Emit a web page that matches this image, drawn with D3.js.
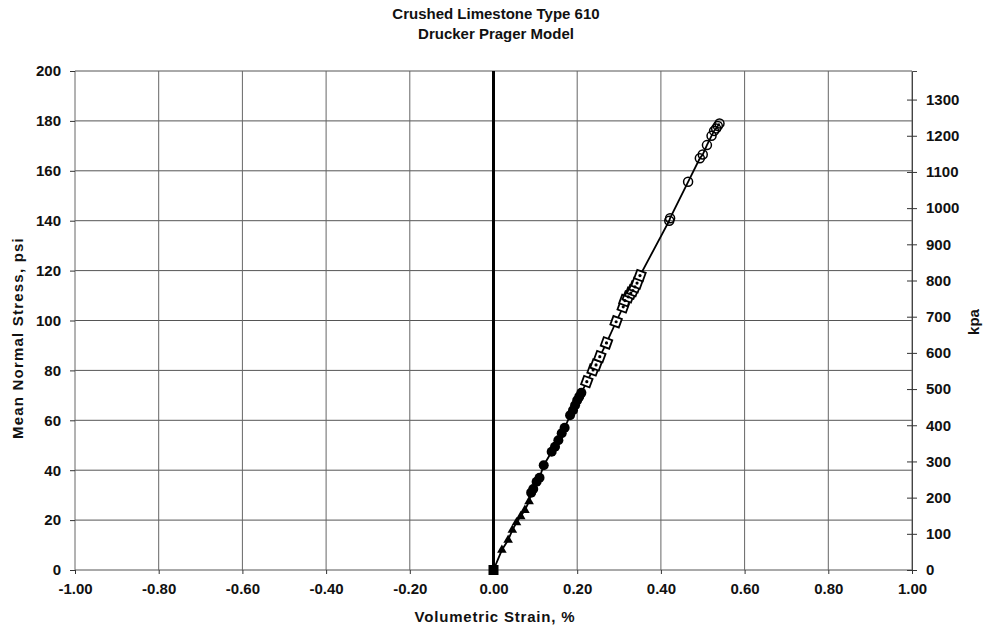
<!DOCTYPE html>
<html><head><meta charset="utf-8">
<script src="https://cdn.jsdelivr.net/npm/d3@7"></script>
<style>
body{margin:0;background:#fff;}
text{font-family:"Liberation Sans",Arial,sans-serif;font-weight:bold;fill:#111;}
</style></head>
<body><svg id="c" width="992" height="630"></svg>
<script>
const titleLines = ["Crushed Limestone Type 610", "Drucker Prager Model"];
const xTicks = [-1.0,-0.8,-0.6,-0.4,-0.2,0,0.2,0.4,0.6,0.8,1.0];
const yTicks = [0,20,40,60,80,100,120,140,160,180,200];
const kpaTicks = [0,100,200,300,400,500,600,700,800,900,1000,1100,1200,1300];

// vertical series at zero strain
const s0Strain = [0, 0];
const s0Stress = [0, 200];
// filled triangles
const s1Strain = [0.00,0.02,0.035,0.045,0.055,0.065,0.075,0.085];
const s1Stress = [0,8,12,16,19,21.5,24,27.5];
// filled circles
const s2Strain = [0.09,0.095,0.103,0.11,0.12,0.139,0.147,0.155,0.163,0.17,0.183,0.19,0.195,0.20,0.205,0.21];
const s2Stress = [31,32.5,35.4,37,42,47.4,49.4,52,54.8,57,62,64,66,68,69.5,71];
// open squares
const s3Strain = [0.223,0.238,0.245,0.254,0.27,0.293,0.31,0.314,0.322,0.328,0.333,0.338,0.343,0.35];
const s3Stress = [75.5,80.2,82.2,85.5,91,99.5,105.5,108,109.5,111,112,113.5,115,118];
// open circles
const s4Strain = [0.42,0.422,0.465,0.493,0.50,0.51,0.521,0.527,0.532,0.536,0.54];
const s4Stress = [140,141,155.6,165,166.5,170.3,174,176,177,178,179];

const svg = d3.select("#c");
const L=75, R=912, T=71, B=570;
const x = d3.scaleLinear().domain([-1,1]).range([L,R]);
const y = d3.scaleLinear().domain([0,200]).range([B,T]);
const yk = d3.scaleLinear().domain([0,200*6.894757]).range([B,T]);
const FS = "15px";

// grid
const g = svg.append("g");
g.selectAll(".hg").data(yTicks).join("line")
  .attr("x1",L).attr("x2",R).attr("y1",d=>y(d)).attr("y2",d=>y(d))
  .attr("stroke","#555").attr("stroke-width",1);
g.selectAll(".vg").data(xTicks).join("line")
  .attr("x1",d=>x(d)).attr("x2",d=>x(d)).attr("y1",T).attr("y2",B)
  .attr("stroke","#666").attr("stroke-width",1);

// axes
const fmtX = d => d3.format(".2f")(d).replace("\u2212","-");
const xAxis = svg.append("g").attr("transform",`translate(0,${B})`)
  .call(d3.axisBottom(x).tickValues(xTicks).tickFormat(fmtX).tickSize(4).tickPadding(9));
const yAxis = svg.append("g").attr("transform",`translate(${L},0)`)
  .call(d3.axisLeft(y).tickValues(yTicks).tickFormat(d=>String(d)).tickSize(5).tickPadding(9));
const kAxis = svg.append("g").attr("transform",`translate(${R},0)`)
  .call(d3.axisRight(yk).tickValues(kpaTicks).tickFormat(d=>String(d)).tickSize(5).tickPadding(9));
kAxis.selectAll(".tick line").attr("x1",-5);
[xAxis,yAxis,kAxis].forEach(a=>{
  a.selectAll("text").style("font-size",FS).style("font-family","'Liberation Sans',Arial,sans-serif").style("font-weight","bold").attr("fill","#111");
  a.selectAll("line").attr("stroke","#333");
  a.select(".domain").attr("stroke","#444");
});
xAxis.select(".domain").remove();
yAxis.select(".domain").remove();

// data
const pts = (xs,ys)=>xs.map((v,i)=>[v,ys[i]]);
const all = [].concat(pts(s1Strain,s1Stress),pts(s2Strain,s2Stress),pts(s3Strain,s3Stress),pts(s4Strain,s4Stress));
const line = d3.line().x(d=>x(d[0])).y(d=>y(d[1]));
svg.append("path").datum(pts(s0Strain,s0Stress)).attr("d",line).attr("fill","none").attr("stroke","#000").attr("stroke-width",3);
svg.append("path").datum(all).attr("d",line).attr("fill","none").attr("stroke","#000").attr("stroke-width",1.8);

svg.append("rect").attr("x",x(0)-5).attr("y",y(0)-5).attr("width",10).attr("height",10).attr("fill","#000");

svg.append("g").selectAll("path").data(pts(s1Strain,s1Stress).slice(1)).join("path")
  .attr("d",d3.symbol(d3.symbolTriangle,40))
  .attr("transform",d=>`translate(${x(d[0])},${y(d[1])})`).attr("fill","#000");
svg.append("g").selectAll("circle").data(pts(s2Strain,s2Stress)).join("circle")
  .attr("cx",d=>x(d[0])).attr("cy",d=>y(d[1])).attr("r",5).attr("fill","#000");
svg.append("g").selectAll("rect").data(pts(s3Strain,s3Stress)).join("rect")
  .attr("x",d=>x(d[0])-4.5).attr("y",d=>y(d[1])-4.5).attr("width",9).attr("height",9)
  .attr("transform",d=>`rotate(20,${x(d[0])},${y(d[1])})`)
  .attr("fill","#fff").attr("stroke","#000").attr("stroke-width",1.8);
svg.append("g").selectAll("circle").data(pts(s3Strain,s3Stress)).join("circle")
  .attr("cx",d=>x(d[0])).attr("cy",d=>y(d[1])).attr("r",1.6).attr("fill","#000");
svg.append("g").selectAll("circle").data(pts(s4Strain,s4Stress)).join("circle")
  .attr("cx",d=>x(d[0])).attr("cy",d=>y(d[1])).attr("r",4.5).attr("fill","none").attr("stroke","#000").attr("stroke-width",1.5);

// titles
svg.append("g").selectAll("text").data(titleLines).join("text")
  .attr("x",496).attr("y",(d,i)=>19+i*20).attr("text-anchor","middle").style("font-size",FS).text(d=>d);
svg.append("text").attr("x",495).attr("y",622).attr("text-anchor","middle").style("font-size",FS).style("letter-spacing","0.8px").text("Volumetric Strain, %");
svg.append("text").attr("transform","translate(23,338) rotate(-90)").attr("text-anchor","middle").style("font-size",FS).style("letter-spacing","1.2px").text("Mean Normal Stress, psi");
svg.append("text").attr("transform","translate(979,322) rotate(-90)").attr("text-anchor","middle").style("font-size",FS).text("kpa");
</script></body></html>
